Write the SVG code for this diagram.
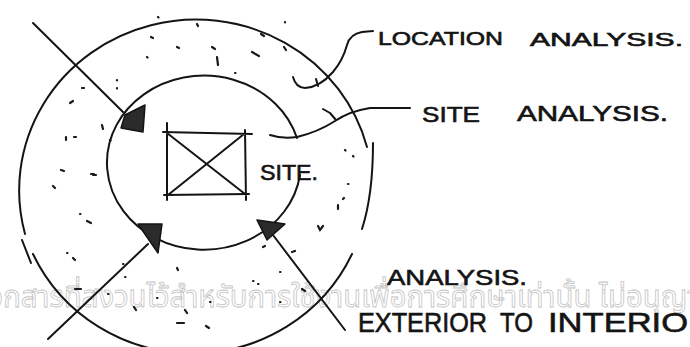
<svg xmlns="http://www.w3.org/2000/svg" width="690" height="347" viewBox="0 0 690 347">
<style>
.ln{fill:none;stroke:#141414;stroke-width:2;stroke-linecap:round;stroke-linejoin:round}
.dt{fill:none;stroke:#1a1a1a;stroke-width:2.2;stroke-linecap:round}
.ah{fill:#2b2b2b;stroke:#141414;stroke-width:1.5;stroke-linejoin:round}
.lb{font-family:"Liberation Sans",Arial,sans-serif;fill:#141414;stroke:#141414;stroke-width:0.6;font-weight:normal}
.wm{font-family:"Noto Sans Thai","Noto Sans","DejaVu Sans",sans-serif;fill:none;stroke:#c4c4c4;stroke-width:0.8}
</style>
<rect width="690" height="347" fill="#ffffff"/>
<text class="wm" x="-22" y="307" font-size="30" textLength="740" lengthAdjust="spacingAndGlyphs">เอกสารที่สงวนไว้สำหรับการใช้งานเพื่อการศึกษาเท่านั้น ไม่อนุญาต</text>
<g id="location-ring">
<path class="ln" d="M25,234 A176,170 0 1 1 367,147"/>
<path class="ln" d="M373,143 Q373,195 362,229"/>
<path class="ln" d="M352,254 A176,172 0 0 1 33,254"/>
<path class="ln" d="M22,240 L31,263"/>
</g>
<g id="stipple">
<path class="dt" d="M158,17l.5,.5M151,37l2,1M177,47l2,1M147,57l.5,.5M117,80l0,.5M117,88l0,.5M82,88l2,0M70,103l3,-2M102,125l1,4M66,137l0,3M74,137l2,0M110,140l.5,.5M61,170l3,1M91,174l3,0M197,24l1,2M285,22l0,.5M261,34l3,2M212,47l3,2M217,57l1,8M252,52l7,4M284,47l2,3M235,73l.5,0M345,150l.5,.5M353,156l.5,.5M348,184l.5,0M343,199l1,-1M338,205l0,4M318,226l2,4l3,-4M292,252l3,-1M280,272l.5,0M253,281l.5,0M258,284l.5,0M280,302l.5,0M302,289l3,2M210,302l.5,0M206,326l3,2M263,247l2,-1M93,175l3,0M53,186l2,2M80,214l.5,0M87,221l4,2M67,253l.5,0M73,258l2,2M123,264l.5,0M125,277l.5,0M108,294l.5,0M75,289l6,0M134,307l2,3M157,298l.5,0M177,268l1,2M185,310l2,3M177,323l7,0"/>
</g>
<g id="site-ring">
<path class="ln" d="M297,138 A97,87 0 1 0 300,175"/>
</g>
<g id="site">
<path class="ln" d="M163,132 L252,134 M167,123 L167,200 M245,130 L246,200 M164,195 L249,194 M167,133 L245,194 M244,134 L168,195"/>
<text class="lb" x="260" y="180" font-size="22" textLength="58" lengthAdjust="spacingAndGlyphs">SITE.</text>
</g>
<g id="connectors">
<path class="ln" d="M33,23 L123,112"/>
<path class="ln" d="M48,339 L148,244"/>
<path class="ln" d="M345,330 L273,235"/>
<polygon class="ah" points="125,115 145,105 143,132 121,128"/>
<polygon class="ah" points="138,224 162,224 158,253"/>
<polygon class="ah" points="257,220 285,224 267,240"/>
<path class="ln" d="M270,135 Q282,139 297,137 Q318,132 335,121 Q350,111 370,108 L410,108"/>
<path class="ln" d="M323,109 L330,113 L336,120"/>
<path class="ln" d="M293,77 Q296,88 305,88 Q320,87 333,72 Q343,60 347,45 Q350,34 362,32 L373,31"/>
<path class="ln" d="M316,79 L318,86"/>
</g>
<g id="labels">
<text class="lb" x="378" y="45" font-size="18" textLength="125" lengthAdjust="spacingAndGlyphs">LOCATION</text>
<text class="lb" x="530" y="46" font-size="18" textLength="153" lengthAdjust="spacingAndGlyphs">ANALYSIS.</text>
<text class="lb" x="422" y="122" font-size="22" textLength="58" lengthAdjust="spacingAndGlyphs">SITE</text>
<text class="lb" x="517" y="121" font-size="22" textLength="151" lengthAdjust="spacingAndGlyphs">ANALYSIS.</text>
<text class="lb" x="387" y="285" font-size="22" textLength="140" lengthAdjust="spacingAndGlyphs">ANALYSIS.</text>
<text class="lb" x="358" y="332" font-size="28" textLength="129" lengthAdjust="spacingAndGlyphs">EXTERIOR</text>
<text class="lb" x="500" y="332" font-size="28" textLength="33" lengthAdjust="spacingAndGlyphs">TO</text>
<text class="lb" x="548" y="332" font-size="28" textLength="165" lengthAdjust="spacingAndGlyphs">INTERIOR</text>
</g>
</svg>
